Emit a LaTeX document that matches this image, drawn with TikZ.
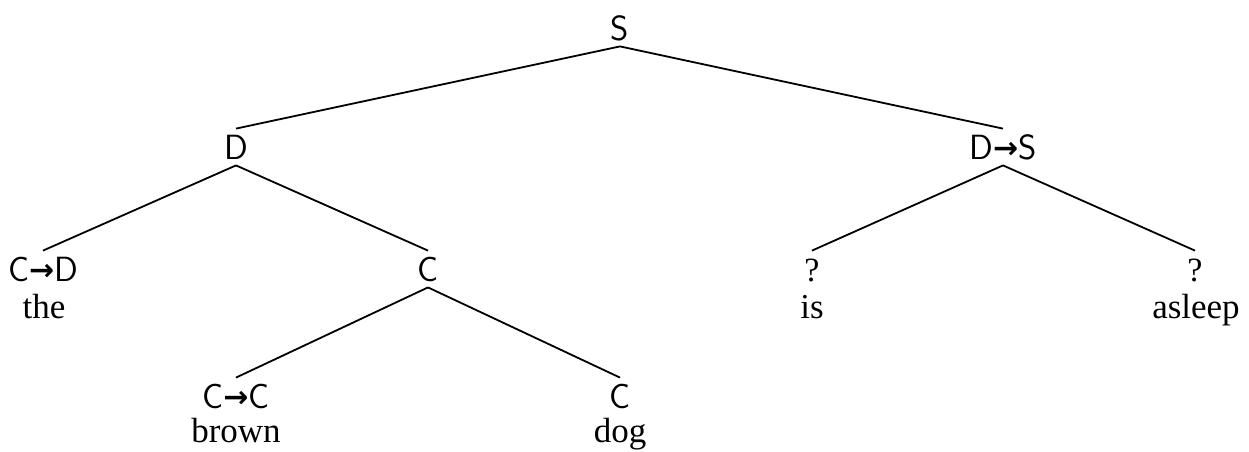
\documentclass[tikz,border=0pt]{standalone}
\usepackage{fontspec}
\setmainfont{Liberation Serif}
\newfontfamily\arrowfont{DejaVu Sans}
\usepackage{tikz}
\newcommand{\ar}{{\arrowfont\bfseries\fontsize{15pt}{15pt}\selectfont\raisebox{0.3pt}{→}}}

\begin{document}
\begin{tikzpicture}[x=0.5pt, y=-0.5pt,
  cat/.style={inner xsep=1pt, inner ysep=3pt, text height=12pt, text depth=0pt,
    font=\sffamily\fontsize{17.5pt}{17.5pt}\selectfont},
  qm/.style={cat, font=\rmfamily\fontsize{17pt}{17pt}\selectfont},
  word/.style={anchor=base, inner sep=0pt, font=\rmfamily\fontsize{17.5pt}{17.5pt}\selectfont},
  br/.style={line width=0.9pt}]
  \useasboundingbox (0,0) rectangle (1249,451);
  % categories
  \node[cat] (S) at (620,28) {S};
  \node[cat] (D) at (236,147) {D};
  \node[cat] (DS) at (1003,147) {D\ar S};
  \node[cat] (CD) at (43,269) {C\ar D};
  \node[cat] (C1) at (428,269) {C};
  \node[qm] (Q1) at (812,269) {?};
  \node[qm] (Q2) at (1195,269) {?};
  \node[cat] (CC) at (236,396) {C\ar C};
  \node[cat] (C2) at (620,396) {C};
  % words
  \node[word] (the) at (44,318) {the};
  \node[word] (is) at (812,318) {is};
  \node[word] (asleep) at (1196,318) {asleep};
  \node[word] (brown) at (236,442) {brown};
  \node[word] (dog) at (620,442) {dog};
  % branches
  \draw[br] (S.south) -- (D.north);
  \draw[br] (S.south) -- (DS.north);
  \draw[br] (D.south) -- (CD.north);
  \draw[br] (D.south) -- (C1.north);
  \draw[br] (DS.south) -- (Q1.north);
  \draw[br] (DS.south) -- (Q2.north);
  \draw[br] (C1.south) -- (CC.north);
  \draw[br] (C1.south) -- (C2.north);
\end{tikzpicture}
\end{document}
